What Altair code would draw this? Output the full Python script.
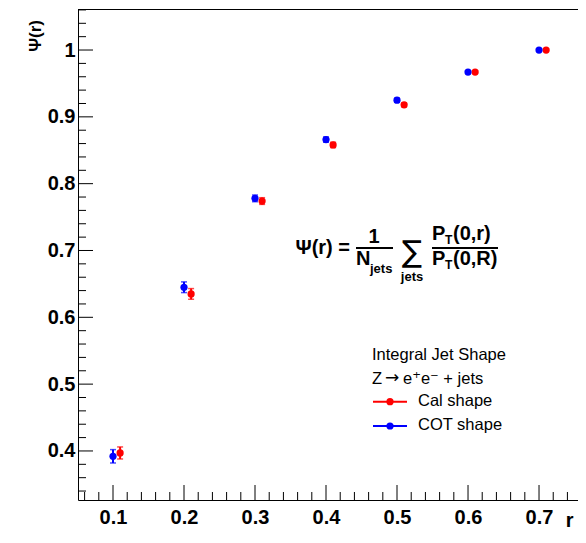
import altair as alt
import pandas as pd

# ---------------- data ----------------
r_cot = [0.10, 0.20, 0.30, 0.40, 0.50, 0.60, 0.70]
psi_cot = [0.392, 0.645, 0.778, 0.866, 0.925, 0.967, 1.000]
err_cot = [0.010, 0.008, 0.005, 0.004, 0.003, 0.002, 0.001]

r_cal = [0.11, 0.21, 0.31, 0.41, 0.51, 0.61, 0.71]
psi_cal = [0.397, 0.635, 0.774, 0.858, 0.918, 0.967, 1.000]
err_cal = [0.009, 0.008, 0.005, 0.004, 0.003, 0.002, 0.001]

series_names = ["Cal shape", "COT shape"]
series_colors = ["#ff0000", "#0000ff"]

x_major = [0.1, 0.2, 0.3, 0.4, 0.5, 0.6, 0.7]
y_major = [0.4, 0.5, 0.6, 0.7, 0.8, 0.9, 1.0]

# ---------------- layout ----------------
W, H = 500, 491
X_DOM = [0.0507, 0.7549]
Y_DOM = [0.3266, 1.0614]
FONT = "Liberation Sans"

x_minor = [round(0.06 + 0.02 * i, 2) for i in range(36)]
x_minor = [v for v in x_minor if abs(v * 10 - round(v * 10)) > 1e-6 and v < X_DOM[1]]
y_minor = [round(0.34 + 0.02 * i, 2) for i in range(37)]
y_minor = [v for v in y_minor if abs(v * 10 - round(v * 10)) > 1e-6 and v < Y_DOM[1]]

rows = []
for r, p, e in zip(r_cal, psi_cal, err_cal):
    rows.append({"r": r, "psi": p, "lo": p - e, "hi": p + e, "series": series_names[0]})
for r, p, e in zip(r_cot, psi_cot, err_cot):
    rows.append({"r": r, "psi": p, "lo": p - e, "hi": p + e, "series": series_names[1]})
df = pd.DataFrame(rows)

xs = alt.Scale(domain=X_DOM, nice=False, zero=False)
ys = alt.Scale(domain=Y_DOM, nice=False, zero=False)
col = alt.Color("series:N", scale=alt.Scale(domain=series_names, range=series_colors), legend=None)

x_axis = alt.Axis(
    values=x_major, format=".1f", grid=False, ticks=False, tickSize=0,
    labelFont=FONT, labelFontWeight="bold", labelFontSize=20, labelColor="black",
    labelPadding=7, domainColor="black", domainWidth=1,
    title="r", titleFont=FONT, titleFontWeight="bold", titleFontSize=20, titleColor="black",
    titleAnchor="end", titleAlign="right", titleX=495, titleY=26, titleBaseline="alphabetic",
)
y_axis = alt.Axis(
    values=y_major, format=".1~f", grid=False, ticks=False, tickSize=0,
    labelFont=FONT, labelFontWeight="bold", labelFontSize=20, labelColor="black",
    labelPadding=3, domainColor="black", domainWidth=1, title=None,
)

def X(field):
    return alt.X(field, scale=xs, axis=x_axis)

def Y(field):
    return alt.Y(field, scale=ys, axis=y_axis)

base = alt.Chart(df)

points = base.mark_circle(size=52, opacity=1).encode(x=X("r:Q"), y=Y("psi:Q"), color=col)
ebars = base.mark_rule(strokeWidth=2).encode(x=X("r:Q"), y=Y("lo:Q"), y2="hi:Q", color=col)
cap_lo = base.mark_tick(orient="horizontal", size=6, thickness=1.5).encode(
    x=X("r:Q"), y=Y("lo:Q"), color=col
)
cap_hi = base.mark_tick(orient="horizontal", size=6, thickness=1.5).encode(
    x=X("r:Q"), y=Y("hi:Q"), color=col
)

# inside-pointing ROOT style ticks
def yticks(vals, length):
    return alt.Chart(pd.DataFrame({"psi": vals})).mark_rule(color="black", strokeWidth=1).encode(
        y=Y("psi:Q"), x=alt.value(0), x2=alt.value(length)
    )

def xticks(vals, length):
    return alt.Chart(pd.DataFrame({"r": vals})).mark_rule(color="black", strokeWidth=1).encode(
        x=X("r:Q"), y=alt.value(H), y2=alt.value(H - length)
    )

def txt(s, x, y, size, weight="normal", align="left", baseline="alphabetic", font=FONT, angle=0):
    return alt.Chart(pd.DataFrame({"t": [s]})).mark_text(
        align=align, baseline=baseline, fontSize=size, fontWeight=weight, font=font,
        color="black", angle=angle,
    ).encode(x=alt.value(x), y=alt.value(y), text="t:N")

def hline(x1, x2, y, color="black", width=1):
    return alt.Chart(pd.DataFrame({"a": [0]})).mark_rule(color=color, strokeWidth=width).encode(
        x=alt.value(x1), x2=alt.value(x2), y=alt.value(y)
    )

def dot(x, y, color):
    return alt.Chart(pd.DataFrame({"a": [0]})).mark_circle(size=52, opacity=1, color=color).encode(
        x=alt.value(x), y=alt.value(y)
    )

frame_top = hline(0, W, 0.5)
y_title = txt("Ψ(r)", -42, 11, 17, "bold", "right", "middle", angle=270)

formula = [
    txt("Ψ(r) =", 272, 245, 20, "bold", "right"),
    txt("1", 296, 234, 20, "bold", "center"),
    hline(278, 315, 239, width=2),
    txt("N", 278, 256, 20, "bold"),
    txt("jets", 292, 264, 13, "bold"),
    txt("∑", 334, 244, 30, "normal", "center", "middle", "DejaVu Sans"),
    txt("jets", 334, 272, 13, "bold", "center"),
    txt("P", 354, 231, 20, "bold"),
    txt("T", 367, 235, 12, "bold"),
    txt("(0,r)", 375, 231, 20, "bold"),
    hline(354, 420, 239, width=2),
    txt("P", 354, 256, 20, "bold"),
    txt("T", 367, 260, 12, "bold"),
    txt("(0,R)", 375, 256, 20, "bold"),
]

legend = [
    txt("Integral Jet Shape", 294, 351, 16.5),
    txt("Z", 294, 375, 16.5),
    txt("→", 307, 374, 17, font="DejaVu Sans"),
    txt("e⁺e⁻ + jets", 325, 375, 16.5, font="Liberation Sans, DejaVu Sans"),
    hline(295, 329, 392.7, series_colors[0], 2),
    dot(312, 392.7, series_colors[0]),
    txt("Cal shape", 340, 397, 16.5),
    hline(295, 329, 417, series_colors[1], 2),
    dot(312, 417, series_colors[1]),
    txt("COT shape", 340, 421, 16.5),
]

chart = alt.layer(
    points,
    yticks(y_major, 15), yticks(y_minor, 8),
    xticks(x_major, 15), xticks(x_minor, 8),
    frame_top, y_title,
    ebars, cap_lo, cap_hi,
    *formula, *legend,
).properties(
    width=W, height=H,
    autosize=alt.AutoSizeParams(type="none"),
    padding={"left": 70, "top": 1, "right": 0, "bottom": 30},
    background="white",
).configure_view(stroke=None)

chart.save("out.html", embed_options={"renderer": "svg", "actions": False})
